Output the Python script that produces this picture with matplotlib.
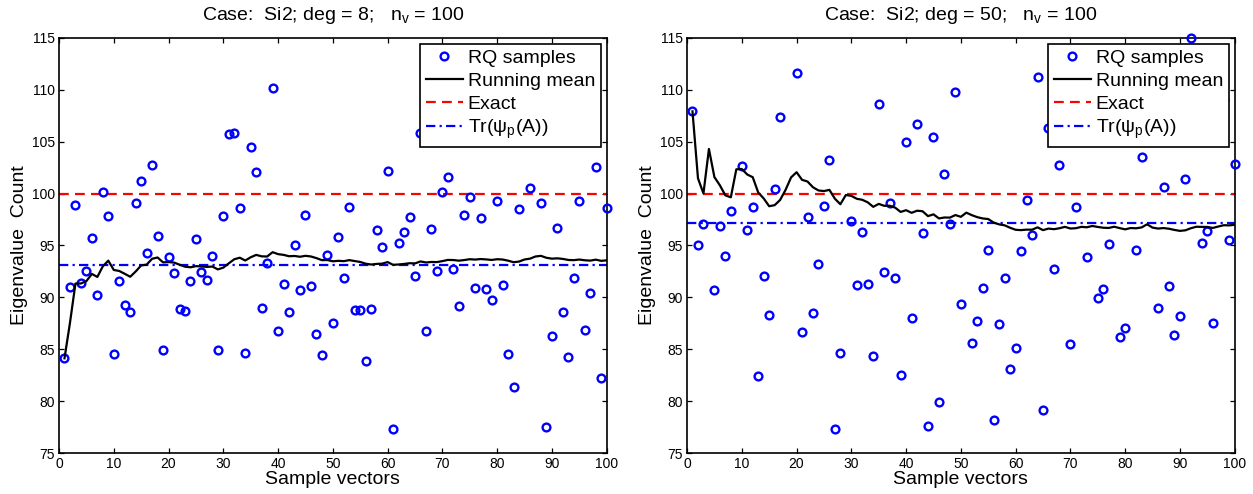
import numpy as np
import matplotlib
matplotlib.use("Agg")
import matplotlib.pyplot as plt

plt.rcParams["font.family"] = ["Liberation Sans", "DejaVu Sans"]
plt.rcParams["mathtext.fontset"] = "custom"
plt.rcParams["mathtext.rm"] = "Liberation Sans"
plt.rcParams["mathtext.it"] = "Liberation Sans:italic"

EXACT_COUNT = 100.0
N_VECTORS = 100

# Rayleigh-quotient eigenvalue-count samples, one per random vector
deg8_samples = [
    84.14, 90.97, 98.90, 91.36, 92.50, 95.70, 90.24, 100.18, 97.87, 84.60,
    91.55, 89.30, 88.57, 99.12, 101.24, 94.31, 102.75, 95.91, 84.94, 93.93,
    92.40, 88.90, 88.70, 91.55, 95.63, 92.45, 91.65, 93.96, 84.94, 97.84,
    105.70, 105.83, 98.58, 84.65, 104.48, 102.10, 88.95, 93.32, 110.19, 86.80,
    91.30, 88.63, 95.02, 90.69, 97.94, 91.10, 86.48, 84.43, 94.09, 87.54,
    95.79, 91.90, 98.74, 88.76, 88.76, 83.89, 88.89, 96.49, 94.82, 102.20,
    77.31, 95.27, 96.33, 97.78, 92.10, 105.80, 86.80, 96.59, 92.55, 100.12,
    101.62, 92.77, 89.18, 97.90, 99.70, 90.94, 97.68, 90.78, 89.72, 99.28,
    91.17, 84.56, 81.35, 98.54, 110.50, 100.53, 112.00, 99.12, 77.50, 86.29,
    96.65, 88.63, 84.24, 91.87, 99.25, 86.87, 90.43, 102.55, 82.20, 98.64,
]
deg50_samples = [
    107.91, 95.02, 97.10, 117.13, 90.75, 96.84, 94.02, 98.35, 123.85, 102.65,
    96.52, 98.74, 82.41, 92.10, 88.31, 100.41, 107.40, 117.00, 123.00, 111.57,
    86.64, 97.71, 88.47, 93.22, 98.83, 103.23, 77.34, 84.69, 124.70, 97.33,
    91.17, 96.33, 91.33, 84.40, 108.65, 92.42, 99.06, 91.84, 82.51, 104.96,
    87.99, 106.69, 96.23, 77.60, 105.47, 79.91, 101.88, 97.10, 109.80, 89.34,
    118.25, 85.65, 87.70, 90.94, 94.53, 78.24, 87.45, 91.84, 83.08, 85.14,
    94.50, 99.41, 95.98, 111.25, 79.20, 106.34, 92.71, 102.71, 106.00, 85.49,
    98.74, 106.00, 93.90, 106.00, 89.98, 90.85, 95.14, 106.00, 86.16, 87.09,
    107.00, 94.57, 103.52, 122.00, 70.00, 88.95, 100.63, 91.07, 86.42, 88.25,
    101.37, 114.94, 110.00, 95.27, 96.40, 87.54, 110.00, 109.00, 95.50, 102.81,
]
# Tr(psi_p(A)) for each polynomial degree
deg8_trace = 93.15
deg50_trace = 97.15

Y_MIN, Y_MAX = 75, 115
X_TICKS = list(range(0, 101, 10))
Y_TICKS = list(range(75, 116, 5))

LABEL_SIZE = 14
TICK_SIZE = 10


def draw_panel(ax, samples, trace, deg):
    samples = np.asarray(samples, dtype=float)
    idx = np.arange(1, len(samples) + 1)
    running = np.cumsum(samples) / idx

    # markers may overhang the frame, but samples outside the y-range are dropped
    inside = (samples >= Y_MIN) & (samples <= Y_MAX)
    shown = np.where(inside, samples, np.nan)

    ax.plot(idx, shown, "o", ls="none", mfc="none", mec=(0, 0, 1),
            ms=5.6, mew=1.7, clip_on=False, zorder=3, label="RQ samples")
    ax.plot(idx, running, "-", color="k", lw=1.6, zorder=4,
            label="Running mean")
    ax.axhline(EXACT_COUNT, color=(1, 0, 0), lw=1.6, ls=(0, (4.4, 2.8)),
               zorder=2, label="Exact")
    ax.axhline(trace, color=(0, 0, 1), lw=1.6, ls=(0, (4.2, 1.9, 1.0, 1.9)),
               zorder=2, label=r"Tr(ψ$_\mathrm{p}$(A))")

    ax.set_xlim(0, N_VECTORS)
    ax.set_ylim(Y_MIN, Y_MAX)
    ax.set_xticks(X_TICKS)
    ax.set_yticks(Y_TICKS)
    ax.tick_params(direction="in", top=True, right=True, length=3.8,
                   width=0.9, labelsize=TICK_SIZE, pad=3)
    for spine in ax.spines.values():
        spine.set_linewidth(1.2)

    ax.set_xlabel("Sample vectors", fontsize=LABEL_SIZE, labelpad=0)
    ax.set_ylabel("Eigenvalue  Count", fontsize=LABEL_SIZE, labelpad=3)
    ax.set_title(r"Case:  Si2; deg = %d;   n$_\mathrm{v}$ = %d" % (deg, N_VECTORS),
                 fontsize=LABEL_SIZE, pad=13)

    leg = ax.legend(loc="upper right", fontsize=LABEL_SIZE, numpoints=1,
                    handlelength=1.9, handletextpad=0.25, borderaxespad=0.3,
                    borderpad=0.3, labelspacing=0.27, fancybox=False,
                    framealpha=1.0, edgecolor="k")
    leg.get_frame().set_linewidth(1.2)
    leg.set_zorder(10)


fig = plt.figure(figsize=(12.53, 4.94), dpi=100)
ax_left = fig.add_axes([0.0471, 0.0824, 0.4371, 0.8413])
ax_right = fig.add_axes([0.5483, 0.0824, 0.4371, 0.8413])

draw_panel(ax_left, deg8_samples, deg8_trace, 8)
draw_panel(ax_right, deg50_samples, deg50_trace, 50)

fig.savefig("out.png", dpi=100)
